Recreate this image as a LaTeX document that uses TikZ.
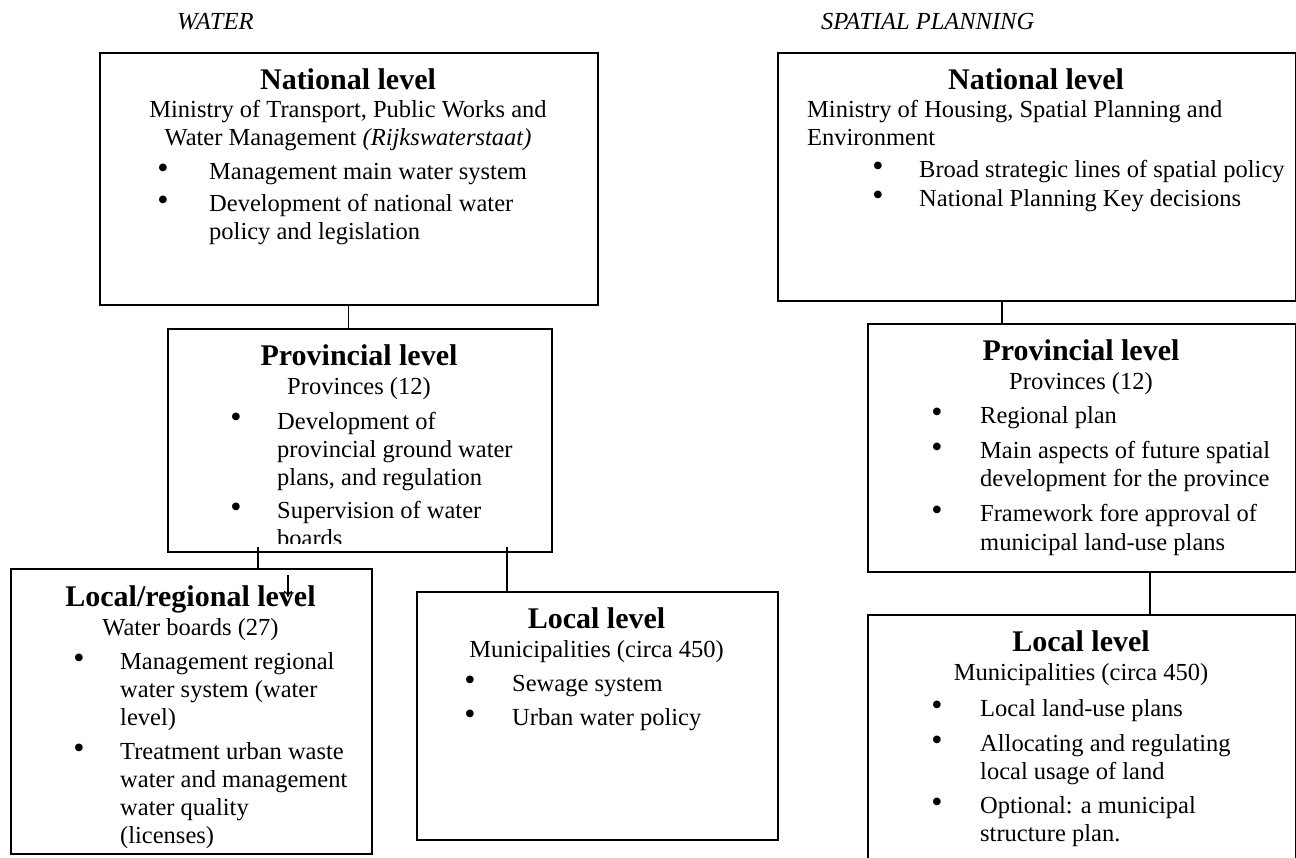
\documentclass[tikz,border=0pt]{standalone}
\usepackage{fontspec}
\setmainfont{Liberation Serif}
\usetikzlibrary{calc,arrows.meta}
\tikzset{
  box/.style={draw, line width=1.6pt, anchor=north west, inner sep=0pt},
  conn/.style={line width=1.2pt},
  ttl/.style={font=\fontsize{30}{32}\selectfont\bfseries, anchor=base, inner sep=0pt},
  ct/.style={font=\fontsize{24.5}{27}\selectfont, anchor=base, inner sep=0pt},
  lt/.style={font=\fontsize{24.5}{27}\selectfont, anchor=base west, inner sep=0pt},
  bul/.style={font=\fontsize{32}{34}\selectfont, anchor=base, inner sep=0pt, yshift=1pt},
  hd/.style={font=\fontsize{24.5}{27}\selectfont\itshape, anchor=base west, inner sep=0pt},
}
\begin{document}
\begin{tikzpicture}[x=1pt,y=-1pt]
\useasboundingbox (0,0) rectangle (1296,858);

% headings
\node[hd] (hw) at (177,30) {WATER};
\node[hd] (hs) at (821,30) {SPATIAL PLANNING};

% boxes
\node[box, minimum width=498pt, minimum height=252pt] (wn) at (99,52) {};
\node[box, minimum width=384pt, minimum height=223pt] (wp) at (167,328) {};
\node[box, minimum width=361pt, minimum height=285pt] (wr) at (10,568) {};
\node[box, minimum width=361pt, minimum height=248pt] (wl) at (416,591) {};
\node[box, minimum width=518pt, minimum height=248pt] (sn) at (777,52) {};
\node[box, minimum width=428pt, minimum height=248pt] (sp) at (867,323) {};
\node[box, minimum width=428pt, minimum height=270pt] (sl) at (867,614) {};

% connectors
\draw[conn] (wn.south) -- (wn.south |- wp.north);
\draw[conn] ($(sn.south west)+(225,0)$) coordinate (c1) -- (c1 |- sp.north);
\draw[conn] ($(wp.south west)+(91,-6)$) coordinate (c2) -- (c2 |- wr.north);
\draw[conn] ($(wp.south west)+(340,-6)$) coordinate (c3) -- (c3 |- wl.north);
\draw[conn, -{To[length=6pt,width=8pt]}] ($(wr.north west)+(278,7)$) coordinate (c4) -- ($(c4)+(0,22)$) coordinate (c5);
\draw[conn] ($(sp.south west)+(283,0)$) coordinate (c6) -- (c6 |- sl.north);

% water national
\node[ttl] (wn1) at (348,90) {National level};
\node[ct] (wn2) at (348,118) {Ministry of Transport, Public Works and};
\node[ct] (wn3) at (348,146) {Water Management \textit{(Rijkswaterstaat)}};
\node[bul] (wnb1) at (163,180) {•};
\node[lt] (wn4) at (209,180) {Management main water system};
\node[bul] (wnb2) at (163,212) {•};
\node[lt] (wn5) at (209,212) {Development of national water};
\node[lt] (wn6) at (209,240) {policy and legislation};

% spatial national
\node[ttl] (sn1) at (1036,90) {National level};
\node[lt] (sn2) at (807,118) {Ministry of Housing, Spatial Planning and};
\node[lt] (sn3) at (807,146) {Environment};
\node[bul] (snb1) at (878,178) {•};
\node[lt] (sn4) at (919,178) {Broad strategic lines of spatial policy};
\node[bul] (snb2) at (878,207) {•};
\node[lt] (sn5) at (919,207) {National Planning Key decisions};

% water provincial
\node[ttl] (wp1) at (359,366) {Provincial level};
\node[ct] (wp2) at (359,395) {Provinces (12)};
\node[bul] (wpb1) at (236,429) {•};
\node[lt] (wp3) at (277,429) {Development of};
\node[lt] (wp4) at (277,457) {provincial ground water};
\node[lt] (wp5) at (277,485) {plans, and regulation};
\node[bul] (wpb2) at (236,518) {•};
\node[lt] (wp6) at (277,518) {Supervision of water};
\begin{scope}
\clip (0,0) rectangle (1296,543);
\node[lt] (wp7) at (277,546) {boards};
\end{scope}

% spatial provincial
\node[ttl] (sp1) at (1081,361) {Provincial level};
\node[ct] (sp2) at (1081,390) {Provinces (12)};
\node[bul] (spb1) at (937,424) {•};
\node[lt] (sp3) at (980,424) {Regional plan};
\node[bul] (spb2) at (937,458) {•};
\node[lt] (sp4) at (980,458) {Main aspects of future spatial};
\node[lt] (sp5) at (980,486) {development for the province};
\node[bul] (spb3) at (937,521) {•};
\node[lt] (sp6) at (980,521) {Framework fore approval of};
\node[lt] (sp7) at (980,550) {municipal land-use plans};

% local/regional
\node[ttl] (wr1) at (190.5,606) {Local/regional level};
\node[ct] (wr2) at (190.5,635) {Water boards (27)};
\node[bul] (wrb1) at (79,669) {•};
\node[lt] (wr3) at (120,669) {Management regional};
\node[lt] (wr4) at (120,697) {water system (water};
\node[lt] (wr5) at (120,725) {level)};
\node[bul] (wrb2) at (79,759) {•};
\node[lt] (wr6) at (120,759) {Treatment urban waste};
\node[lt] (wr7) at (120,787) {water and management};
\node[lt] (wr8) at (120,815) {water quality};
\node[lt] (wr9) at (120,843) {(licenses)};

% water local
\node[ttl] (wl1) at (596.5,628) {Local level};
\node[ct] (wl2) at (596.5,657) {Municipalities (circa 450)};
\node[bul] (wlb1) at (470,691) {•};
\node[lt] (wl3) at (512,691) {Sewage system};
\node[bul] (wlb2) at (470,725) {•};
\node[lt] (wl4) at (512,725) {Urban water policy};

% spatial local
\node[ttl] (sl1) at (1081,651) {Local level};
\node[ct] (sl2) at (1081,680) {Municipalities (circa 450)};
\node[bul] (slb1) at (937,716) {•};
\node[lt] (sl3) at (980,716) {Local land-use plans};
\node[bul] (slb2) at (937,751) {•};
\node[lt] (sl4) at (980,751) {Allocating and regulating};
\node[lt] (sl5) at (980,779) {local usage of land};
\node[bul] (slb3) at (937,813) {•};
\node[lt] (sl6) at (980,813) {Optional: a municipal};
\node[lt] (sl7) at (980,841) {structure plan.};
\end{tikzpicture}
\end{document}
